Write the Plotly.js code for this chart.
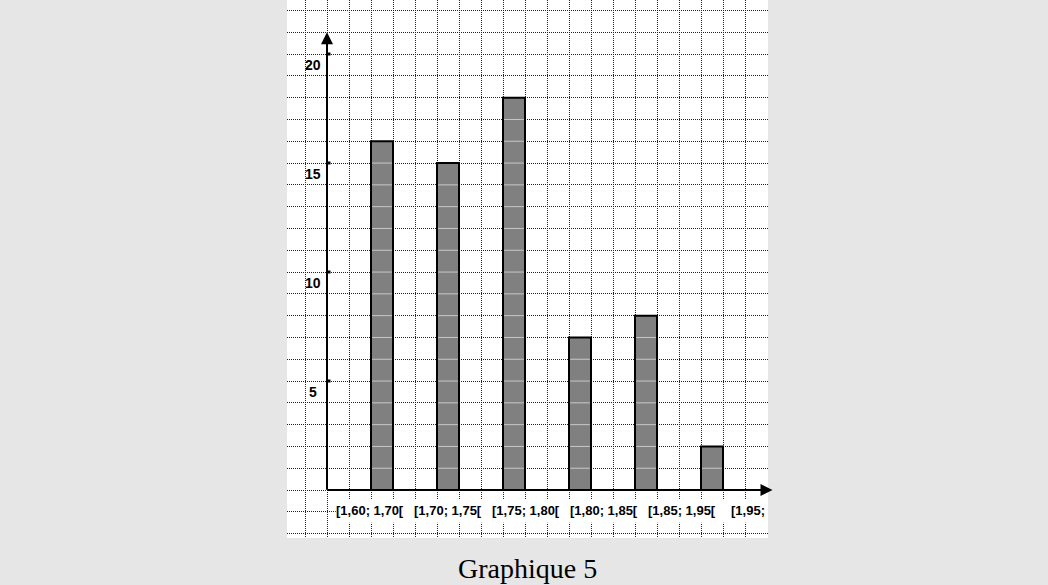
<!DOCTYPE html>
<html>
<head>
<meta charset="utf-8">
<script src="https://cdn.plot.ly/plotly-3.0.1.min.js"></script>
<style>html,body{margin:0;padding:0;background:#e6e6e6;}#chart{width:1048px;height:585px;}</style>
</head>
<body>
<div id="chart"></div>
<script>
// Data
const categories = ["[1,60; 1,70[", "[1,70; 1,75[", "[1,75; 1,80[", "[1,80; 1,85[", "[1,85; 1,95[", "[1,95; 2,00["];
const counts = [16, 15, 18, 7, 8, 2];
const xTickLabels = ["[1,60; 1,70[", "[1,70; 1,75[", "[1,75; 1,80[", "[1,80; 1,85[", "[1,85; 1,95[", "[1,95;"];
const yTickValues = [5, 10, 15, 20];

// Layout helpers (grid units)
const barX = counts.map((_, i) => 2.5 + 3 * i);
const labelX = xTickLabels.map((_, i) => 1.95 + 3.55 * i);
const lastLabelX = 19.15;

const trace = {
  type: 'bar',
  x: barX,
  y: counts,
  width: 1,
  marker: {color: '#808080', line: {color: '#000', width: 2}},
  hoverinfo: 'skip',
  text: categories,
  textposition: 'none'
};

const shapes = [];
// white band behind the category labels
shapes.push({type: 'rect', xref: 'x', yref: 'y', x0: 0.4, x1: 20.1, y0: -0.45, y1: -1.5,
  fillcolor: '#fff', line: {width: 0}, layer: 'between'});
counts.forEach((v, i) => {
  for (let k = 1; k < v; k++) {
    shapes.push({type: 'line', xref: 'x', yref: 'y', x0: barX[i] - 0.45, x1: barX[i] + 0.45, y0: k, y1: k,
      line: {color: '#c8c8c8', width: 1}, layer: 'above'});
  }
});

const annotations = [];
// axes with arrows
annotations.push({x: 0, y: 21, ax: 0, ay: -0.05, xref: 'x', yref: 'y', axref: 'x', ayref: 'y',
  showarrow: true, arrowhead: 2, arrowsize: 1.2, arrowwidth: 2, arrowcolor: '#000', text: ''});
annotations.push({x: 20.25, y: 0, ax: -0.05, ay: 0, xref: 'x', yref: 'y', axref: 'x', ayref: 'y',
  showarrow: true, arrowhead: 2, arrowsize: 1.2, arrowwidth: 2, arrowcolor: '#000', text: ''});
// y tick labels
yTickValues.forEach(v => {
  annotations.push({x: -0.62, y: v, xref: 'x', yref: 'y', yshift: -11, showarrow: false, text: String(v),
    font: {family: 'Liberation Sans, Arial', size: 14, color: '#000', weight: 'bold'}});
  annotations.push({x: 0, y: v, xref: 'x', yref: 'y', xshift: 2, showarrow: false, text: '',
    width: 2, height: 2, borderpad: 0, bgcolor: '#000'});
});
// x tick labels
xTickLabels.forEach((t, i) => {
  const xx = (i === xTickLabels.length - 1) ? lastLabelX : labelX[i];
  annotations.push({x: xx, y: -0.95, xref: 'x', yref: 'y', showarrow: false, text: t,
    font: {family: 'Liberation Sans, Arial', size: 13, color: '#000', weight: 'bold'}});
});
// caption
annotations.push({x: 0.5, y: (538 - 568) / 538, xref: 'paper', yref: 'paper', yanchor: 'middle', xanchor: 'center',
  showarrow: false, text: 'Graphique 5', font: {family: 'Liberation Serif, Times New Roman', size: 28, color: '#000'}});

const layout = {
  width: 1048, height: 585,
  paper_bgcolor: '#e6e6e6',
  plot_bgcolor: '#ffffff',
  margin: {l: 287, r: 280, t: 0, b: 47, pad: 0},
  showlegend: false,
  xaxis: {range: [-1.818, 20.045], tick0: 0, dtick: 1, showgrid: true, gridcolor: '#222', gridwidth: 1,
    griddash: '1px,1px', zeroline: false, showline: false, showticklabels: false, ticks: '', fixedrange: true},
  yaxis: {range: [-2.2, 22.48], tick0: 0, dtick: 1, showgrid: true, gridcolor: '#222', gridwidth: 1,
    griddash: '1px,1px', zeroline: false, showline: false, showticklabels: false, ticks: '', fixedrange: true},
  shapes: shapes,
  annotations: annotations
};

Plotly.newPlot('chart', [trace], layout, {displayModeBar: false, staticPlot: true});
</script>
</body>
</html>
